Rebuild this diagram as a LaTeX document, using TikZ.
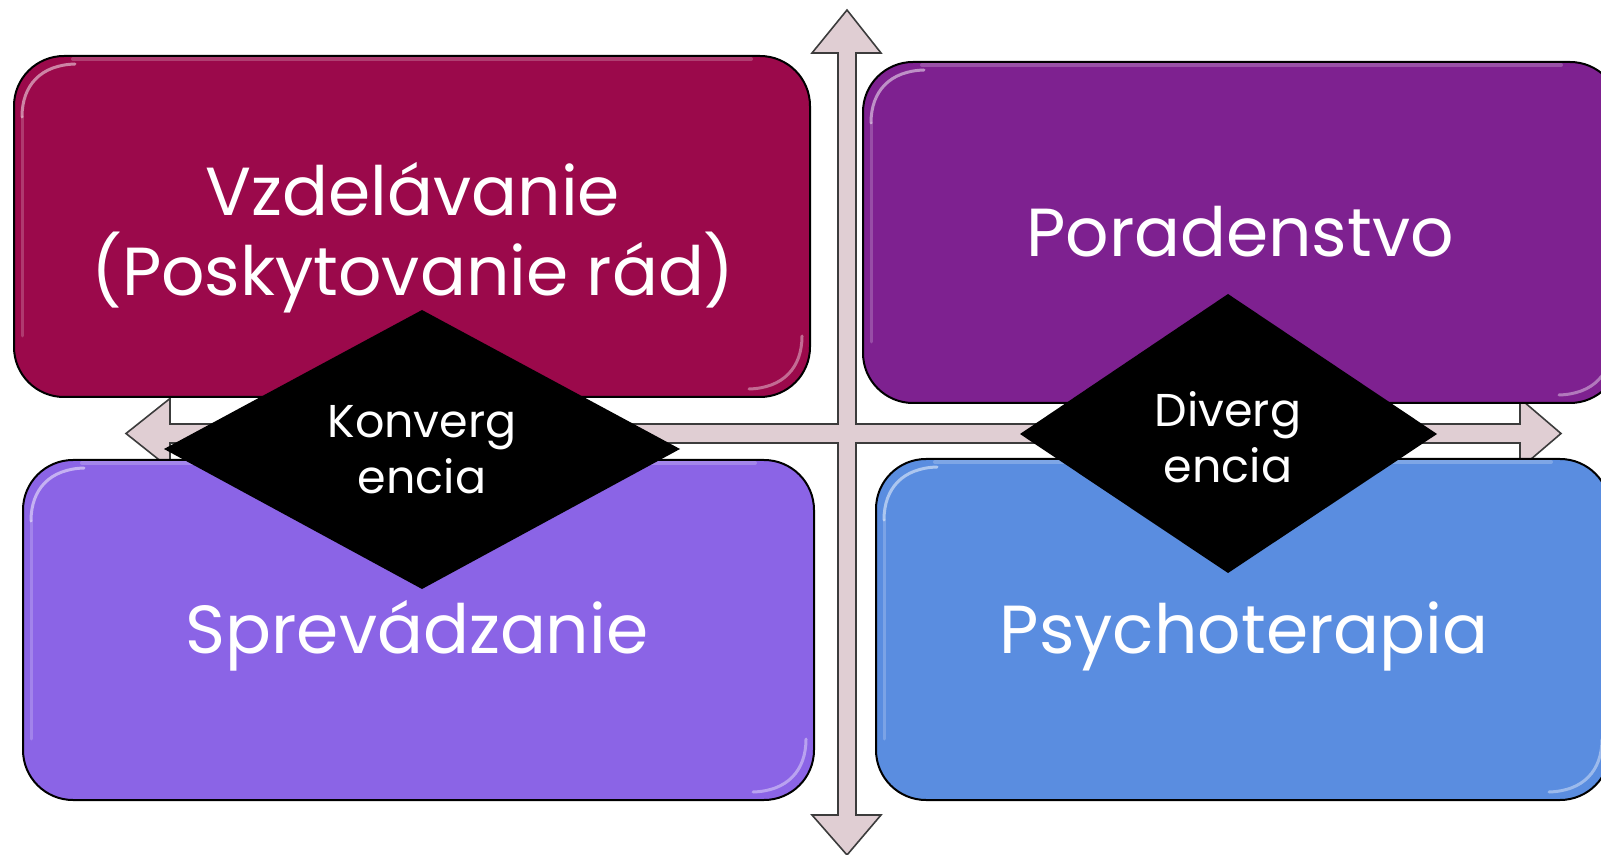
\documentclass[tikz,border=0pt]{standalone}
\usepackage{fontspec}
\setmainfont{Poppins}
\usetikzlibrary{calc}
\definecolor{cEdu}{RGB}{155,9,75}
\definecolor{cPor}{RGB}{126,33,144}
\definecolor{cSpr}{RGB}{139,100,230}
\definecolor{cPsy}{RGB}{90,141,224}
\definecolor{arrowfill}{RGB}{224,206,211}
\definecolor{arrowline}{RGB}{60,60,60}
\newcommand{\glossbox}[1]{%
  \draw[gloss] ($(#1.north west)+(9,62)$) .. controls ($(#1.north west)+(9,30)$) and ($(#1.north west)+(28,10)$) .. ($(#1.north west)+(62,9)$);
  \draw[gloss, opacity=0.2] ($(#1.north west)+(9,62)$) -- ($(#1.south west)+(9,-62)$);
  \draw[gloss, opacity=0.22, line width=2pt] ($(#1.north west)+(60,4)$) -- ($(#1.north east)+(-60,4)$);
  \draw[gloss, opacity=0.4] ($(#1.south east)+(-9,-62)$) .. controls ($(#1.south east)+(-9,-30)$) and ($(#1.south east)+(-28,-10)$) .. ($(#1.south east)+(-62,-9)$);
}
\begin{document}
\begin{tikzpicture}[x=0.5pt,y=-0.5pt,
  box/.style={draw=black, line width=1pt, rounded corners=25pt, inner sep=0pt},
  label/.style={text=white, inner sep=0pt, anchor=base, font=\fontsize{34}{40}\selectfont},
  axisarrow/.style={fill=arrowfill, draw=arrowline, line width=0.8pt, line join=miter},
  dia/.style={fill=black},
  dtext/.style={text=white, align=center, inner sep=0pt, font=\fontsize{23}{28}\selectfont},
  gloss/.style={draw=white, opacity=0.5, line width=1.5pt, line cap=round}]
\useasboundingbox (0,0) rectangle (1601,855);

% axes (cross-shaped double arrow)
\draw[axisarrow] (847,10) -- (881,53) -- (856,53) -- (856,424) -- (1520,424) -- (1520,398.5)
  -- (1561,433.5) -- (1520,468.5) -- (1520,443) -- (856,443) -- (856,815) -- (881,815)
  -- (847,855) -- (812,815) -- (838,815) -- (838,443) -- (170,443) -- (170,468.5)
  -- (126,433.5) -- (170,398.5) -- (170,424) -- (838,424) -- (838,53) -- (812,53) -- cycle;

% quadrant boxes
\node[box, fill=cEdu, minimum width=398pt, minimum height=170.5pt] (edu) at (412,226.5) {};
\node[box, fill=cPor, minimum width=378.5pt, minimum height=170.5pt] (por) at (1241.5,232.5) {};
\node[box, fill=cSpr, minimum width=395.5pt, minimum height=170pt] (spr) at (418.5,630) {};
\node[box, fill=cPsy, minimum width=367pt, minimum height=170.5pt] (psy) at (1243,629.5) {};
\glossbox{edu}
\glossbox{por}
\glossbox{spr}
\glossbox{psy}

% box labels
\node[label] (eduA) at (413,216) {Vzdelávanie};
\node[label] (eduB) at (413,296) {(Poskytovanie rád)};
\node[label] (porT) at (1240,257) {Poradenstvo};
\node[label] (sprT) at (417,653) {Sprevádzanie};
\node[label] (psyT) at (1244,653) {Psychoterapia};

% diamonds
\fill[dia] (422,310) -- (680,449) -- (422,589) -- (164,449) -- cycle;
\node[dtext] (konv) at (422,450) {Konverg\\encia};
\fill[dia] (1228,294) -- (1437,434) -- (1228,573) -- (1020,434) -- cycle;
\node[dtext] (div) at (1228,437) {Diverg\\encia};
\end{tikzpicture}
\end{document}
